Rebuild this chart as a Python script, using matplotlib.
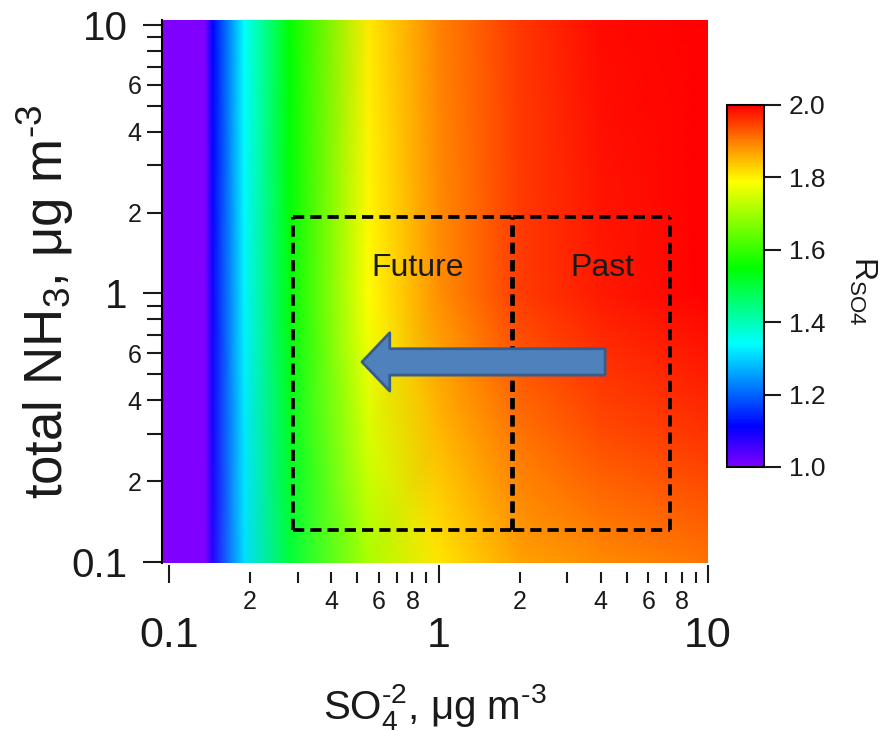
import matplotlib
matplotlib.use('Agg')
import matplotlib.pyplot as plt
import numpy as np
from matplotlib.colors import LinearSegmentedColormap
from matplotlib.ticker import FixedLocator, FixedFormatter

plt.rcParams['font.family'] = ['Liberation Sans', 'DejaVu Sans']
plt.rcParams['mathtext.fontset'] = 'custom'
plt.rcParams['mathtext.rm'] = 'Liberation Sans'
plt.rcParams['mathtext.it'] = 'Liberation Sans'

# SO4 (x) and NH3 (y) grid, values of R_SO4
so4 = [0.095, 0.136, 0.145, 0.19, 0.28, 0.55, 1.0, 2.0, 4.0, 10.0]
nh3 = [0.0991, 0.3, 1.0, 10.44]
r_nh3_01 = [1.0, 0.99, 1.08, 1.31, 1.50, 1.71, 1.81, 1.87, 1.89, 1.91]
r_nh3_03 = [1.0, 1.00, 1.09, 1.32, 1.52, 1.75, 1.85, 1.91, 1.94, 1.96]
r_nh3_1 = [1.0, 1.00, 1.10, 1.33, 1.54, 1.79, 1.885, 1.95, 1.98, 2.0]
r_nh3_10 = [1.0, 1.00, 1.11, 1.34, 1.55, 1.805, 1.895, 1.955, 1.99, 2.0]

# boxes and annotations (x0, x1, y0, y1)
future_box = [0.288, 1.874, 0.1315, 1.928]
past_box = [1.89, 7.23, 0.1315, 1.928]
future_label = (0.839, 1.245)
past_label = (4.07, 1.245)
arrow_tail = (4.15, 0.556)
arrow_tip = (0.52, 0.556)

x_major = [0.1, 1, 10]
x_major_labels = ['0.1', '1', '10']
x_minor = [0.2, 0.3, 0.4, 0.5, 0.6, 0.7, 0.8, 0.9, 2, 3, 4, 5, 6, 7, 8, 9]
x_minor_labels = ['2', '', '4', '', '6', '', '8', '', '2', '', '4', '', '6', '', '8', '']
y_major = [0.1, 1, 10]
y_major_labels = ['0.1', '1', '10']
y_minor = x_minor
y_minor_labels = ['2', '', '4', '', '6', '', '', '', '2', '', '4', '', '6', '', '', '']
cb_ticks = [1.0, 1.2, 1.4, 1.6, 1.8, 2.0]

stops = [1.0, 1.11, 1.34, 1.55, 1.79, 1.9, 2.0]
stop_colors = ['#8000ff', '#0000ff', '#00ffff', '#00ff00', '#ffff00', '#ff8000', '#ff0000']
cmap = LinearSegmentedColormap.from_list(
    'rso4', [((s - 1.0) / 1.0, c) for s, c in zip(stops, stop_colors)])

txt = '#1a1a1a'
fig = plt.figure(figsize=(8.92, 7.31), dpi=100)
ax = fig.add_axes([163 / 892, 1 - 563 / 731, 545 / 892, 543 / 731])

X, Y = np.meshgrid(so4, nh3)
Z = np.array([r_nh3_01, r_nh3_03, r_nh3_1, r_nh3_10])
mesh = ax.pcolormesh(X, Y, Z, cmap=cmap, vmin=1.0, vmax=2.0, shading='gouraud')
ax.set_xscale('log')
ax.set_yscale('log')
ax.set_xlim(so4[0], so4[-1])
ax.set_ylim(nh3[0], nh3[-1])

# dashed boxes, every edge drawn from bottom/left so shared edges keep the same dash phase
dash = (0, (3.0, 1.6))
for b in (future_box, past_box):
    ax.vlines([b[0], b[1]], b[2], b[3], colors='black', lw=2.7, linestyles=[dash])
    ax.hlines([b[2], b[3]], b[0], b[1], colors='black', lw=2.7, linestyles=[dash])
ax.text(*future_label, 'Future', fontsize=23, ha='center', va='center', color=txt)
ax.text(*past_label, 'Past', fontsize=23, ha='center', va='center', color=txt)

ax.annotate('', xy=arrow_tip, xytext=arrow_tail,
            arrowprops=dict(arrowstyle='simple,head_length=1.0,head_width=2.1,tail_width=0.95',
                            mutation_scale=20, fc='#4f81bd', ec='#385d8a', lw=2,
                            shrinkA=0, shrinkB=0))

# axes styling
for s in ('top', 'right'):
    ax.spines[s].set_visible(False)
ax.spines['left'].set_linewidth(1.5)
ax.spines['left'].set_position(('outward', 1))
ax.spines['bottom'].set_position(('outward', 14.4))
ax.spines['bottom'].set_color('none')

ax.xaxis.set_major_locator(FixedLocator(x_major))
ax.xaxis.set_major_formatter(FixedFormatter(x_major_labels))
ax.xaxis.set_minor_locator(FixedLocator(x_minor))
ax.xaxis.set_minor_formatter(FixedFormatter(x_minor_labels))
ax.yaxis.set_major_locator(FixedLocator(y_major))
ax.yaxis.set_major_formatter(FixedFormatter(y_major_labels))
ax.yaxis.set_minor_locator(FixedLocator(y_minor))
ax.yaxis.set_minor_formatter(FixedFormatter(y_minor_labels))

ax.tick_params(axis='x', which='major', direction='in', length=13, width=1.5,
               pad=24, labelsize=31, colors=txt)
ax.tick_params(axis='x', which='minor', direction='in', length=8, width=1.5,
               pad=5, labelsize=18, colors=txt)
ax.tick_params(axis='y', which='major', direction='out', length=13.5, width=1.5,
               pad=11, labelsize=29, colors=txt)
ax.tick_params(axis='y', which='minor', direction='out', length=11, width=1.5,
               pad=3.5, labelsize=18, colors=txt)

fig.text(435 / 892, 1 - 719 / 731, 'SO$_4^{\u2010 2}$, \u03bcg m$^{\u2010 3}$',
         fontsize=29, ha='center', va='baseline', color=txt)
fig.text(45 / 892, 1 - 302 / 731, 'total NH$_3$, \u03bcg m$^{\u2010 3}$',
         fontsize=38, rotation=90, ha='center', va='center', color=txt)

# colorbar
cax = fig.add_axes([727 / 892, 1 - 467 / 731, 37 / 892, 362 / 731])
cb = fig.colorbar(mesh, cax=cax, ticks=cb_ticks)
cb.ax.yaxis.set_major_formatter(FixedFormatter([f'{t:.1f}' for t in cb_ticks]))
cb.ax.tick_params(length=12, width=1.5, labelsize=19, pad=6, colors=txt)
cb.outline.set_linewidth(1.5)
fig.text(863 / 892, 1 - 291 / 731, 'R$_{\\mathrm{SO4}}$', rotation=270, fontsize=23,
         ha='center', va='center', color=txt)

fig.savefig('out.png', dpi=100)
